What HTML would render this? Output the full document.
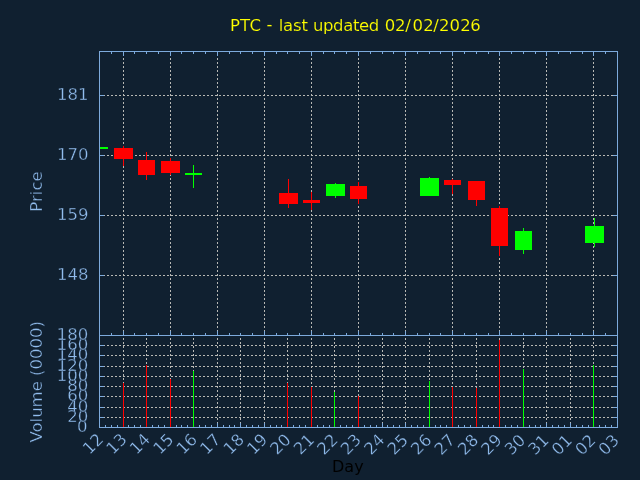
<!DOCTYPE html><html><head><meta charset="utf-8"><title>PTC</title><style>html,body{margin:0;padding:0;background:#102030;overflow:hidden}svg{display:block}text{font-family:"DejaVu Sans","Liberation Sans",sans-serif}</style></head><body>
<svg width="640" height="480" viewBox="0 0 640 480">
<rect x="0" y="0" width="640" height="480" fill="#102030"/>
<g shape-rendering="crispEdges">
<line x1="123.5" y1="52" x2="123.5" y2="335" stroke="#b8b8b4" stroke-width="1" stroke-dasharray="2 2" stroke-dashoffset="2"/>
<line x1="170.5" y1="52" x2="170.5" y2="335" stroke="#b8b8b4" stroke-width="1" stroke-dasharray="2 2" stroke-dashoffset="2"/>
<line x1="217.5" y1="52" x2="217.5" y2="335" stroke="#b8b8b4" stroke-width="1" stroke-dasharray="2 2" stroke-dashoffset="2"/>
<line x1="264.5" y1="52" x2="264.5" y2="335" stroke="#b8b8b4" stroke-width="1" stroke-dasharray="2 2" stroke-dashoffset="2"/>
<line x1="311.5" y1="52" x2="311.5" y2="335" stroke="#b8b8b4" stroke-width="1" stroke-dasharray="2 2" stroke-dashoffset="2"/>
<line x1="358.5" y1="52" x2="358.5" y2="335" stroke="#b8b8b4" stroke-width="1" stroke-dasharray="2 2" stroke-dashoffset="2"/>
<line x1="405.5" y1="52" x2="405.5" y2="335" stroke="#b8b8b4" stroke-width="1" stroke-dasharray="2 2" stroke-dashoffset="2"/>
<line x1="452.5" y1="52" x2="452.5" y2="335" stroke="#b8b8b4" stroke-width="1" stroke-dasharray="2 2" stroke-dashoffset="2"/>
<line x1="499.5" y1="52" x2="499.5" y2="335" stroke="#b8b8b4" stroke-width="1" stroke-dasharray="2 2" stroke-dashoffset="2"/>
<line x1="546.5" y1="52" x2="546.5" y2="335" stroke="#b8b8b4" stroke-width="1" stroke-dasharray="2 2" stroke-dashoffset="2"/>
<line x1="593.5" y1="52" x2="593.5" y2="335" stroke="#b8b8b4" stroke-width="1" stroke-dasharray="2 2" stroke-dashoffset="2"/>
<line x1="100" y1="95.5" x2="617" y2="95.5" stroke="#b8b8b4" stroke-width="1" stroke-dasharray="2 2" stroke-dashoffset="1"/>
<line x1="100" y1="155.5" x2="617" y2="155.5" stroke="#b8b8b4" stroke-width="1" stroke-dasharray="2 2" stroke-dashoffset="1"/>
<line x1="100" y1="215.5" x2="617" y2="215.5" stroke="#b8b8b4" stroke-width="1" stroke-dasharray="2 2" stroke-dashoffset="1"/>
<line x1="100" y1="275.5" x2="617" y2="275.5" stroke="#b8b8b4" stroke-width="1" stroke-dasharray="2 2" stroke-dashoffset="1"/>
<line x1="123.5" y1="336" x2="123.5" y2="427" stroke="#b8b8b4" stroke-width="1" stroke-dasharray="2 2" stroke-dashoffset="2"/>
<line x1="146.5" y1="336" x2="146.5" y2="427" stroke="#b8b8b4" stroke-width="1" stroke-dasharray="2 2" stroke-dashoffset="2"/>
<line x1="170.5" y1="336" x2="170.5" y2="427" stroke="#b8b8b4" stroke-width="1" stroke-dasharray="2 2" stroke-dashoffset="2"/>
<line x1="193.5" y1="336" x2="193.5" y2="427" stroke="#b8b8b4" stroke-width="1" stroke-dasharray="2 2" stroke-dashoffset="2"/>
<line x1="217.5" y1="336" x2="217.5" y2="427" stroke="#b8b8b4" stroke-width="1" stroke-dasharray="2 2" stroke-dashoffset="2"/>
<line x1="240.5" y1="336" x2="240.5" y2="427" stroke="#b8b8b4" stroke-width="1" stroke-dasharray="2 2" stroke-dashoffset="2"/>
<line x1="264.5" y1="336" x2="264.5" y2="427" stroke="#b8b8b4" stroke-width="1" stroke-dasharray="2 2" stroke-dashoffset="2"/>
<line x1="287.5" y1="336" x2="287.5" y2="427" stroke="#b8b8b4" stroke-width="1" stroke-dasharray="2 2" stroke-dashoffset="2"/>
<line x1="311.5" y1="336" x2="311.5" y2="427" stroke="#b8b8b4" stroke-width="1" stroke-dasharray="2 2" stroke-dashoffset="2"/>
<line x1="334.5" y1="336" x2="334.5" y2="427" stroke="#b8b8b4" stroke-width="1" stroke-dasharray="2 2" stroke-dashoffset="2"/>
<line x1="358.5" y1="336" x2="358.5" y2="427" stroke="#b8b8b4" stroke-width="1" stroke-dasharray="2 2" stroke-dashoffset="2"/>
<line x1="382.5" y1="336" x2="382.5" y2="427" stroke="#b8b8b4" stroke-width="1" stroke-dasharray="2 2" stroke-dashoffset="2"/>
<line x1="405.5" y1="336" x2="405.5" y2="427" stroke="#b8b8b4" stroke-width="1" stroke-dasharray="2 2" stroke-dashoffset="2"/>
<line x1="429.5" y1="336" x2="429.5" y2="427" stroke="#b8b8b4" stroke-width="1" stroke-dasharray="2 2" stroke-dashoffset="2"/>
<line x1="452.5" y1="336" x2="452.5" y2="427" stroke="#b8b8b4" stroke-width="1" stroke-dasharray="2 2" stroke-dashoffset="2"/>
<line x1="476.5" y1="336" x2="476.5" y2="427" stroke="#b8b8b4" stroke-width="1" stroke-dasharray="2 2" stroke-dashoffset="2"/>
<line x1="499.5" y1="336" x2="499.5" y2="427" stroke="#b8b8b4" stroke-width="1" stroke-dasharray="2 2" stroke-dashoffset="2"/>
<line x1="523.5" y1="336" x2="523.5" y2="427" stroke="#b8b8b4" stroke-width="1" stroke-dasharray="2 2" stroke-dashoffset="2"/>
<line x1="546.5" y1="336" x2="546.5" y2="427" stroke="#b8b8b4" stroke-width="1" stroke-dasharray="2 2" stroke-dashoffset="2"/>
<line x1="570.5" y1="336" x2="570.5" y2="427" stroke="#b8b8b4" stroke-width="1" stroke-dasharray="2 2" stroke-dashoffset="2"/>
<line x1="593.5" y1="336" x2="593.5" y2="427" stroke="#b8b8b4" stroke-width="1" stroke-dasharray="2 2" stroke-dashoffset="2"/>
<line x1="100" y1="345.5" x2="617" y2="345.5" stroke="#b8b8b4" stroke-width="1" stroke-dasharray="2 2" stroke-dashoffset="1"/>
<line x1="100" y1="355.5" x2="617" y2="355.5" stroke="#b8b8b4" stroke-width="1" stroke-dasharray="2 2" stroke-dashoffset="1"/>
<line x1="100" y1="366.5" x2="617" y2="366.5" stroke="#b8b8b4" stroke-width="1" stroke-dasharray="2 2" stroke-dashoffset="1"/>
<line x1="100" y1="376.5" x2="617" y2="376.5" stroke="#b8b8b4" stroke-width="1" stroke-dasharray="2 2" stroke-dashoffset="1"/>
<line x1="100" y1="386.5" x2="617" y2="386.5" stroke="#b8b8b4" stroke-width="1" stroke-dasharray="2 2" stroke-dashoffset="1"/>
<line x1="100" y1="396.5" x2="617" y2="396.5" stroke="#b8b8b4" stroke-width="1" stroke-dasharray="2 2" stroke-dashoffset="1"/>
<line x1="100" y1="407.5" x2="617" y2="407.5" stroke="#b8b8b4" stroke-width="1" stroke-dasharray="2 2" stroke-dashoffset="1"/>
<line x1="100" y1="417.5" x2="617" y2="417.5" stroke="#b8b8b4" stroke-width="1" stroke-dasharray="2 2" stroke-dashoffset="1"/>
<rect x="99" y="51" width="519" height="1" fill="#7daadc"/>
<rect x="99" y="427" width="519" height="1" fill="#7daadc"/>
<rect x="99" y="335" width="519" height="1" fill="#7daadc"/>
<rect x="99" y="51" width="1" height="377" fill="#7daadc"/>
<rect x="617" y="51" width="1" height="377" fill="#7daadc"/>
<rect x="111" y="52" width="1" height="2" fill="#7daadc"/>
<rect x="111" y="333" width="1" height="2" fill="#7daadc"/>
<rect x="123" y="52" width="1" height="4" fill="#7daadc"/>
<rect x="123" y="331" width="1" height="4" fill="#7daadc"/>
<rect x="134" y="52" width="1" height="2" fill="#7daadc"/>
<rect x="134" y="333" width="1" height="2" fill="#7daadc"/>
<rect x="146" y="52" width="1" height="2" fill="#7daadc"/>
<rect x="146" y="333" width="1" height="2" fill="#7daadc"/>
<rect x="158" y="52" width="1" height="2" fill="#7daadc"/>
<rect x="158" y="333" width="1" height="2" fill="#7daadc"/>
<rect x="170" y="52" width="1" height="4" fill="#7daadc"/>
<rect x="170" y="331" width="1" height="4" fill="#7daadc"/>
<rect x="181" y="52" width="1" height="2" fill="#7daadc"/>
<rect x="181" y="333" width="1" height="2" fill="#7daadc"/>
<rect x="193" y="52" width="1" height="2" fill="#7daadc"/>
<rect x="193" y="333" width="1" height="2" fill="#7daadc"/>
<rect x="205" y="52" width="1" height="2" fill="#7daadc"/>
<rect x="205" y="333" width="1" height="2" fill="#7daadc"/>
<rect x="217" y="52" width="1" height="4" fill="#7daadc"/>
<rect x="217" y="331" width="1" height="4" fill="#7daadc"/>
<rect x="229" y="52" width="1" height="2" fill="#7daadc"/>
<rect x="229" y="333" width="1" height="2" fill="#7daadc"/>
<rect x="240" y="52" width="1" height="2" fill="#7daadc"/>
<rect x="240" y="333" width="1" height="2" fill="#7daadc"/>
<rect x="252" y="52" width="1" height="2" fill="#7daadc"/>
<rect x="252" y="333" width="1" height="2" fill="#7daadc"/>
<rect x="264" y="52" width="1" height="4" fill="#7daadc"/>
<rect x="264" y="331" width="1" height="4" fill="#7daadc"/>
<rect x="276" y="52" width="1" height="2" fill="#7daadc"/>
<rect x="276" y="333" width="1" height="2" fill="#7daadc"/>
<rect x="287" y="52" width="1" height="2" fill="#7daadc"/>
<rect x="287" y="333" width="1" height="2" fill="#7daadc"/>
<rect x="299" y="52" width="1" height="2" fill="#7daadc"/>
<rect x="299" y="333" width="1" height="2" fill="#7daadc"/>
<rect x="311" y="52" width="1" height="4" fill="#7daadc"/>
<rect x="311" y="331" width="1" height="4" fill="#7daadc"/>
<rect x="323" y="52" width="1" height="2" fill="#7daadc"/>
<rect x="323" y="333" width="1" height="2" fill="#7daadc"/>
<rect x="334" y="52" width="1" height="2" fill="#7daadc"/>
<rect x="334" y="333" width="1" height="2" fill="#7daadc"/>
<rect x="346" y="52" width="1" height="2" fill="#7daadc"/>
<rect x="346" y="333" width="1" height="2" fill="#7daadc"/>
<rect x="358" y="52" width="1" height="4" fill="#7daadc"/>
<rect x="358" y="331" width="1" height="4" fill="#7daadc"/>
<rect x="370" y="52" width="1" height="2" fill="#7daadc"/>
<rect x="370" y="333" width="1" height="2" fill="#7daadc"/>
<rect x="382" y="52" width="1" height="2" fill="#7daadc"/>
<rect x="382" y="333" width="1" height="2" fill="#7daadc"/>
<rect x="393" y="52" width="1" height="2" fill="#7daadc"/>
<rect x="393" y="333" width="1" height="2" fill="#7daadc"/>
<rect x="405" y="52" width="1" height="4" fill="#7daadc"/>
<rect x="405" y="331" width="1" height="4" fill="#7daadc"/>
<rect x="417" y="52" width="1" height="2" fill="#7daadc"/>
<rect x="417" y="333" width="1" height="2" fill="#7daadc"/>
<rect x="429" y="52" width="1" height="2" fill="#7daadc"/>
<rect x="429" y="333" width="1" height="2" fill="#7daadc"/>
<rect x="440" y="52" width="1" height="2" fill="#7daadc"/>
<rect x="440" y="333" width="1" height="2" fill="#7daadc"/>
<rect x="452" y="52" width="1" height="4" fill="#7daadc"/>
<rect x="452" y="331" width="1" height="4" fill="#7daadc"/>
<rect x="464" y="52" width="1" height="2" fill="#7daadc"/>
<rect x="464" y="333" width="1" height="2" fill="#7daadc"/>
<rect x="476" y="52" width="1" height="2" fill="#7daadc"/>
<rect x="476" y="333" width="1" height="2" fill="#7daadc"/>
<rect x="488" y="52" width="1" height="2" fill="#7daadc"/>
<rect x="488" y="333" width="1" height="2" fill="#7daadc"/>
<rect x="499" y="52" width="1" height="4" fill="#7daadc"/>
<rect x="499" y="331" width="1" height="4" fill="#7daadc"/>
<rect x="511" y="52" width="1" height="2" fill="#7daadc"/>
<rect x="511" y="333" width="1" height="2" fill="#7daadc"/>
<rect x="523" y="52" width="1" height="2" fill="#7daadc"/>
<rect x="523" y="333" width="1" height="2" fill="#7daadc"/>
<rect x="535" y="52" width="1" height="2" fill="#7daadc"/>
<rect x="535" y="333" width="1" height="2" fill="#7daadc"/>
<rect x="546" y="52" width="1" height="4" fill="#7daadc"/>
<rect x="546" y="331" width="1" height="4" fill="#7daadc"/>
<rect x="558" y="52" width="1" height="2" fill="#7daadc"/>
<rect x="558" y="333" width="1" height="2" fill="#7daadc"/>
<rect x="570" y="52" width="1" height="2" fill="#7daadc"/>
<rect x="570" y="333" width="1" height="2" fill="#7daadc"/>
<rect x="582" y="52" width="1" height="2" fill="#7daadc"/>
<rect x="582" y="333" width="1" height="2" fill="#7daadc"/>
<rect x="593" y="52" width="1" height="4" fill="#7daadc"/>
<rect x="593" y="331" width="1" height="4" fill="#7daadc"/>
<rect x="605" y="52" width="1" height="2" fill="#7daadc"/>
<rect x="605" y="333" width="1" height="2" fill="#7daadc"/>
<rect x="105" y="425" width="1" height="2" fill="#7daadc"/>
<rect x="111" y="425" width="1" height="2" fill="#7daadc"/>
<rect x="117" y="425" width="1" height="2" fill="#7daadc"/>
<rect x="123" y="423" width="1" height="4" fill="#7daadc"/>
<rect x="128" y="425" width="1" height="2" fill="#7daadc"/>
<rect x="134" y="425" width="1" height="2" fill="#7daadc"/>
<rect x="140" y="425" width="1" height="2" fill="#7daadc"/>
<rect x="146" y="423" width="1" height="4" fill="#7daadc"/>
<rect x="152" y="425" width="1" height="2" fill="#7daadc"/>
<rect x="158" y="425" width="1" height="2" fill="#7daadc"/>
<rect x="164" y="425" width="1" height="2" fill="#7daadc"/>
<rect x="170" y="423" width="1" height="4" fill="#7daadc"/>
<rect x="176" y="425" width="1" height="2" fill="#7daadc"/>
<rect x="181" y="425" width="1" height="2" fill="#7daadc"/>
<rect x="187" y="425" width="1" height="2" fill="#7daadc"/>
<rect x="193" y="423" width="1" height="4" fill="#7daadc"/>
<rect x="199" y="425" width="1" height="2" fill="#7daadc"/>
<rect x="205" y="425" width="1" height="2" fill="#7daadc"/>
<rect x="211" y="425" width="1" height="2" fill="#7daadc"/>
<rect x="217" y="423" width="1" height="4" fill="#7daadc"/>
<rect x="223" y="425" width="1" height="2" fill="#7daadc"/>
<rect x="229" y="425" width="1" height="2" fill="#7daadc"/>
<rect x="234" y="425" width="1" height="2" fill="#7daadc"/>
<rect x="240" y="423" width="1" height="4" fill="#7daadc"/>
<rect x="246" y="425" width="1" height="2" fill="#7daadc"/>
<rect x="252" y="425" width="1" height="2" fill="#7daadc"/>
<rect x="258" y="425" width="1" height="2" fill="#7daadc"/>
<rect x="264" y="423" width="1" height="4" fill="#7daadc"/>
<rect x="270" y="425" width="1" height="2" fill="#7daadc"/>
<rect x="276" y="425" width="1" height="2" fill="#7daadc"/>
<rect x="281" y="425" width="1" height="2" fill="#7daadc"/>
<rect x="287" y="423" width="1" height="4" fill="#7daadc"/>
<rect x="293" y="425" width="1" height="2" fill="#7daadc"/>
<rect x="299" y="425" width="1" height="2" fill="#7daadc"/>
<rect x="305" y="425" width="1" height="2" fill="#7daadc"/>
<rect x="311" y="423" width="1" height="4" fill="#7daadc"/>
<rect x="317" y="425" width="1" height="2" fill="#7daadc"/>
<rect x="323" y="425" width="1" height="2" fill="#7daadc"/>
<rect x="329" y="425" width="1" height="2" fill="#7daadc"/>
<rect x="334" y="423" width="1" height="4" fill="#7daadc"/>
<rect x="340" y="425" width="1" height="2" fill="#7daadc"/>
<rect x="346" y="425" width="1" height="2" fill="#7daadc"/>
<rect x="352" y="425" width="1" height="2" fill="#7daadc"/>
<rect x="358" y="423" width="1" height="4" fill="#7daadc"/>
<rect x="364" y="425" width="1" height="2" fill="#7daadc"/>
<rect x="370" y="425" width="1" height="2" fill="#7daadc"/>
<rect x="376" y="425" width="1" height="2" fill="#7daadc"/>
<rect x="382" y="423" width="1" height="4" fill="#7daadc"/>
<rect x="387" y="425" width="1" height="2" fill="#7daadc"/>
<rect x="393" y="425" width="1" height="2" fill="#7daadc"/>
<rect x="399" y="425" width="1" height="2" fill="#7daadc"/>
<rect x="405" y="423" width="1" height="4" fill="#7daadc"/>
<rect x="411" y="425" width="1" height="2" fill="#7daadc"/>
<rect x="417" y="425" width="1" height="2" fill="#7daadc"/>
<rect x="423" y="425" width="1" height="2" fill="#7daadc"/>
<rect x="429" y="423" width="1" height="4" fill="#7daadc"/>
<rect x="435" y="425" width="1" height="2" fill="#7daadc"/>
<rect x="440" y="425" width="1" height="2" fill="#7daadc"/>
<rect x="446" y="425" width="1" height="2" fill="#7daadc"/>
<rect x="452" y="423" width="1" height="4" fill="#7daadc"/>
<rect x="458" y="425" width="1" height="2" fill="#7daadc"/>
<rect x="464" y="425" width="1" height="2" fill="#7daadc"/>
<rect x="470" y="425" width="1" height="2" fill="#7daadc"/>
<rect x="476" y="423" width="1" height="4" fill="#7daadc"/>
<rect x="482" y="425" width="1" height="2" fill="#7daadc"/>
<rect x="488" y="425" width="1" height="2" fill="#7daadc"/>
<rect x="493" y="425" width="1" height="2" fill="#7daadc"/>
<rect x="499" y="423" width="1" height="4" fill="#7daadc"/>
<rect x="505" y="425" width="1" height="2" fill="#7daadc"/>
<rect x="511" y="425" width="1" height="2" fill="#7daadc"/>
<rect x="517" y="425" width="1" height="2" fill="#7daadc"/>
<rect x="523" y="423" width="1" height="4" fill="#7daadc"/>
<rect x="529" y="425" width="1" height="2" fill="#7daadc"/>
<rect x="535" y="425" width="1" height="2" fill="#7daadc"/>
<rect x="540" y="425" width="1" height="2" fill="#7daadc"/>
<rect x="546" y="423" width="1" height="4" fill="#7daadc"/>
<rect x="552" y="425" width="1" height="2" fill="#7daadc"/>
<rect x="558" y="425" width="1" height="2" fill="#7daadc"/>
<rect x="564" y="425" width="1" height="2" fill="#7daadc"/>
<rect x="570" y="423" width="1" height="4" fill="#7daadc"/>
<rect x="576" y="425" width="1" height="2" fill="#7daadc"/>
<rect x="582" y="425" width="1" height="2" fill="#7daadc"/>
<rect x="588" y="425" width="1" height="2" fill="#7daadc"/>
<rect x="593" y="423" width="1" height="4" fill="#7daadc"/>
<rect x="599" y="425" width="1" height="2" fill="#7daadc"/>
<rect x="605" y="425" width="1" height="2" fill="#7daadc"/>
<rect x="611" y="425" width="1" height="2" fill="#7daadc"/>
<rect x="100" y="95" width="4" height="1" fill="#7daadc"/>
<rect x="613" y="95" width="4" height="1" fill="#7daadc"/>
<rect x="100" y="155" width="4" height="1" fill="#7daadc"/>
<rect x="613" y="155" width="4" height="1" fill="#7daadc"/>
<rect x="100" y="215" width="4" height="1" fill="#7daadc"/>
<rect x="613" y="215" width="4" height="1" fill="#7daadc"/>
<rect x="100" y="275" width="4" height="1" fill="#7daadc"/>
<rect x="613" y="275" width="4" height="1" fill="#7daadc"/>
<rect x="100" y="345" width="4" height="1" fill="#7daadc"/>
<rect x="613" y="345" width="4" height="1" fill="#7daadc"/>
<rect x="100" y="355" width="4" height="1" fill="#7daadc"/>
<rect x="613" y="355" width="4" height="1" fill="#7daadc"/>
<rect x="100" y="366" width="4" height="1" fill="#7daadc"/>
<rect x="613" y="366" width="4" height="1" fill="#7daadc"/>
<rect x="100" y="376" width="4" height="1" fill="#7daadc"/>
<rect x="613" y="376" width="4" height="1" fill="#7daadc"/>
<rect x="100" y="386" width="4" height="1" fill="#7daadc"/>
<rect x="613" y="386" width="4" height="1" fill="#7daadc"/>
<rect x="100" y="396" width="4" height="1" fill="#7daadc"/>
<rect x="613" y="396" width="4" height="1" fill="#7daadc"/>
<rect x="100" y="407" width="4" height="1" fill="#7daadc"/>
<rect x="613" y="407" width="4" height="1" fill="#7daadc"/>
<rect x="100" y="417" width="4" height="1" fill="#7daadc"/>
<rect x="613" y="417" width="4" height="1" fill="#7daadc"/>
<rect x="123" y="383" width="1" height="44" fill="#ff0000"/>
<rect x="146" y="365" width="1" height="62" fill="#ff0000"/>
<rect x="170" y="379" width="1" height="48" fill="#ff0000"/>
<rect x="193" y="371" width="1" height="56" fill="#00ff00"/>
<rect x="287" y="383" width="1" height="44" fill="#ff0000"/>
<rect x="311" y="387" width="1" height="40" fill="#ff0000"/>
<rect x="334" y="392" width="1" height="35" fill="#00ff00"/>
<rect x="358" y="396" width="1" height="31" fill="#ff0000"/>
<rect x="429" y="381" width="1" height="46" fill="#00ff00"/>
<rect x="452" y="387" width="1" height="40" fill="#ff0000"/>
<rect x="476" y="388" width="1" height="39" fill="#ff0000"/>
<rect x="499" y="340" width="1" height="87" fill="#ff0000"/>
<rect x="523" y="369" width="1" height="58" fill="#00ff00"/>
<rect x="593" y="365" width="1" height="62" fill="#00ff00"/>
<rect x="100" y="147" width="8" height="2" fill="#00ff00"/>
<rect x="123" y="146" width="1" height="20" fill="#ff0000"/>
<rect x="114" y="148" width="19" height="11" fill="#ff0000"/>
<rect x="146" y="152" width="1" height="28" fill="#ff0000"/>
<rect x="138" y="160" width="17" height="15" fill="#ff0000"/>
<rect x="170" y="158" width="1" height="17" fill="#ff0000"/>
<rect x="161" y="161" width="19" height="12" fill="#ff0000"/>
<rect x="193" y="165" width="1" height="23" fill="#00ff00"/>
<rect x="185" y="173" width="17" height="2" fill="#00ff00"/>
<rect x="288" y="179" width="1" height="29" fill="#ff0000"/>
<rect x="279" y="193" width="19" height="11" fill="#ff0000"/>
<rect x="311" y="192" width="1" height="18" fill="#ff0000"/>
<rect x="303" y="200" width="17" height="3" fill="#ff0000"/>
<rect x="335" y="183" width="1" height="15" fill="#00ff00"/>
<rect x="326" y="184" width="19" height="12" fill="#00ff00"/>
<rect x="358" y="182" width="1" height="22" fill="#ff0000"/>
<rect x="350" y="186" width="17" height="13" fill="#ff0000"/>
<rect x="429" y="177" width="1" height="19" fill="#00ff00"/>
<rect x="420" y="178" width="19" height="18" fill="#00ff00"/>
<rect x="452" y="179" width="1" height="15" fill="#ff0000"/>
<rect x="444" y="180" width="17" height="5" fill="#ff0000"/>
<rect x="476" y="181" width="1" height="25" fill="#ff0000"/>
<rect x="468" y="181" width="17" height="19" fill="#ff0000"/>
<rect x="499" y="206" width="1" height="50" fill="#ff0000"/>
<rect x="491" y="208" width="17" height="38" fill="#ff0000"/>
<rect x="523" y="228" width="1" height="26" fill="#00ff00"/>
<rect x="515" y="231" width="17" height="19" fill="#00ff00"/>
<rect x="594" y="218" width="1" height="29" fill="#00ff00"/>
<rect x="585" y="226" width="19" height="17" fill="#00ff00"/>
</g>
<g font-size="16.5" fill="#92bdee" stroke="#102030" stroke-width="0.35">
<text y="30.7" fill="#ffff00" stroke-width="0.15"><tspan x="229.9" textLength="31.1">PTC</tspan> <tspan x="266.5" y="30.0">-</tspan> <tspan x="278.7" y="30.7" textLength="29.2">last</tspan> <tspan x="313.0" textLength="66.2">updated</tspan> <tspan x="384.8 395.05 405.3 412.56 423.21 433.36 438.96 449.61 460.21 470.26">02/02/2026</tspan></text>
<text x="88.5" y="100" text-anchor="end">181</text>
<text x="88.5" y="160" text-anchor="end">170</text>
<text x="88.5" y="220" text-anchor="end">159</text>
<text x="88.5" y="280" text-anchor="end">148</text>
<text x="87.4" y="431.9" text-anchor="end">0</text>
<text x="88.3" y="421.9" text-anchor="end">20</text>
<text x="88.3" y="411.9" text-anchor="end">40</text>
<text x="88.3" y="400.9" text-anchor="end">60</text>
<text x="88.3" y="390.9" text-anchor="end">80</text>
<text x="88.3" y="380.9" text-anchor="end">100</text>
<text x="88.3" y="370.9" text-anchor="end">120</text>
<text x="88.3" y="359.9" text-anchor="end">140</text>
<text x="88.3" y="349.9" text-anchor="end">160</text>
<text x="88.3" y="339.9" text-anchor="end">180</text>
<text transform="translate(42.3,191.5) rotate(-90)" text-anchor="middle">Price</text>
<text transform="translate(42.3,381.8) rotate(-90)" text-anchor="middle">Volume (0000)</text>
<text transform="translate(104.40,440.30) rotate(-45)" text-anchor="end">12</text>
<text transform="translate(127.84,440.35) rotate(-45)" text-anchor="end">13</text>
<text transform="translate(151.29,440.40) rotate(-45)" text-anchor="end">14</text>
<text transform="translate(174.74,440.45) rotate(-45)" text-anchor="end">15</text>
<text transform="translate(198.18,440.50) rotate(-45)" text-anchor="end">16</text>
<text transform="translate(221.62,440.55) rotate(-45)" text-anchor="end">17</text>
<text transform="translate(245.07,440.60) rotate(-45)" text-anchor="end">18</text>
<text transform="translate(268.51,440.65) rotate(-45)" text-anchor="end">19</text>
<text transform="translate(291.96,440.70) rotate(-45)" text-anchor="end">20</text>
<text transform="translate(315.40,440.75) rotate(-45)" text-anchor="end">21</text>
<text transform="translate(338.85,440.80) rotate(-45)" text-anchor="end">22</text>
<text transform="translate(362.29,440.85) rotate(-45)" text-anchor="end">23</text>
<text transform="translate(385.74,440.90) rotate(-45)" text-anchor="end">24</text>
<text transform="translate(409.19,440.95) rotate(-45)" text-anchor="end">25</text>
<text transform="translate(432.63,441.00) rotate(-45)" text-anchor="end">26</text>
<text transform="translate(456.07,441.05) rotate(-45)" text-anchor="end">27</text>
<text transform="translate(479.52,441.10) rotate(-45)" text-anchor="end">28</text>
<text transform="translate(502.96,441.15) rotate(-45)" text-anchor="end">29</text>
<text transform="translate(526.41,441.20) rotate(-45)" text-anchor="end">30</text>
<text transform="translate(549.85,441.25) rotate(-45)" text-anchor="end">31</text>
<text transform="translate(573.30,441.30) rotate(-45)" text-anchor="end">01</text>
<text transform="translate(596.75,441.35) rotate(-45)" text-anchor="end">02</text>
<text transform="translate(620.19,441.40) rotate(-45)" text-anchor="end">03</text>
<text x="332" y="471.6" fill="#000000" font-size="16" stroke="none">Day</text>
</g>
</svg></body></html>
